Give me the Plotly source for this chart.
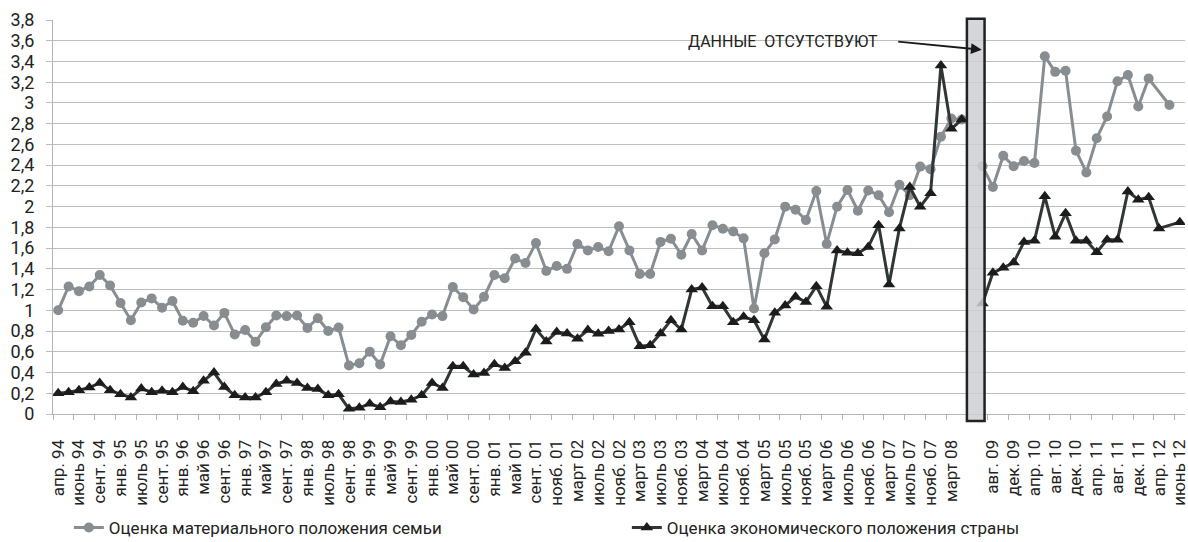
import plotly.graph_objects as go

# ---------------- data ----------------
GAP_INDEX = 88  # period with no survey data (shaded bar)

family_values = [
    1.00, 1.23, 1.185, 1.23, 1.34, 1.24, 1.07, 0.905, 1.075, 1.115,
    1.025, 1.09, 0.90, 0.88, 0.945, 0.853, 0.975, 0.766, 0.81, 0.696,
    0.837, 0.95, 0.944, 0.95, 0.83, 0.924, 0.80, 0.834, 0.467, 0.49,
    0.60, 0.477, 0.75, 0.663, 0.763, 0.89, 0.96, 0.944, 1.224, 1.127,
    1.008, 1.13, 1.34, 1.31, 1.50, 1.456, 1.65, 1.38, 1.427, 1.40,
    1.64, 1.578, 1.61, 1.57, 1.81, 1.578, 1.35, 1.35, 1.66, 1.69,
    1.536, 1.736, 1.578, 1.82, 1.787, 1.76, 1.694, 1.018, 1.55, 1.684,
    2.0, 1.97, 1.87, 2.15, 1.64, 2.0, 2.16, 1.96, 2.155, 2.11,
    1.945, 2.21, 2.11, 2.386, 2.36, 2.675, 2.85, 2.84, None, 2.39,
    2.19, 2.49, 2.39, 2.44, 2.42, 3.45, 3.30, 3.31, 2.54, 2.33,
    2.66, 2.87, 3.21, 3.27, 2.965, 3.235, None, 2.98, None,
]

country_values = [
    0.20, 0.21, 0.23, 0.255, 0.30, 0.23, 0.19, 0.16, 0.245, 0.21,
    0.225, 0.21, 0.26, 0.22, 0.32, 0.40, 0.26, 0.18, 0.16, 0.16,
    0.21, 0.29, 0.32, 0.30, 0.25, 0.24, 0.18, 0.19, 0.05, 0.06,
    0.10, 0.065, 0.12, 0.116, 0.138, 0.18, 0.30, 0.25, 0.46, 0.46,
    0.38, 0.396, 0.48, 0.444, 0.509, 0.59, 0.82, 0.70, 0.79, 0.776,
    0.725, 0.81, 0.773, 0.80, 0.815, 0.886, 0.654, 0.663, 0.776, 0.905,
    0.815, 1.20, 1.22, 1.04, 1.04, 0.886, 0.937, 0.905, 0.718, 0.976,
    1.047, 1.13, 1.08, 1.233, 1.034, 1.578, 1.556, 1.55, 1.61, 1.82,
    1.25, 1.79, 2.19, 2.0, 2.13, 3.36, 2.75, 2.84, None, 1.066,
    1.362, 1.41, 1.46, 1.66, 1.67, 2.10, 1.71, 1.935, 1.67, 1.67,
    1.56, 1.68, 1.68, 2.147, 2.067, 2.09, 1.79, None, 1.85,
]

# one label for every second period
tick_labels = [
    "апр. 94", "июнь 94", "сент. 94", "янв. 95", "июль 95", "сент. 95",
    "янв. 96", "май 96", "сент. 96", "янв. 97", "май 97", "сент. 97",
    "янв. 98", "июль 98", "сент. 98", "янв. 99", "май 99", "сент. 99",
    "янв. 00", "май 00", "сент. 00", "янв. 01", "май 01", "сент. 01",
    "нояб. 01", "март 02", "июль 02", "нояб. 02", "март 03", "июль 03",
    "нояб. 03", "март 04", "июль 04", "нояб. 04", "март 05", "июль 05",
    "нояб. 05", "март 06", "июль 06", "нояб. 06", "март 07", "июль 07",
    "нояб. 07", "март 08", "", "авг. 09", "дек. 09", "апр. 10",
    "авг. 10", "дек. 10", "апр. 11", "авг. 11", "дек. 11", "апр. 12",
    "июнь 12",
]

series_names = ["Оценка материального положения семьи",
                "Оценка экономического положения страны"]
gap_text = "ДАННЫЕ  ОТСУТСТВУЮТ"

assert len(family_values) == len(country_values)
N = len(family_values)

FONT = "Roboto, Liberation Sans, sans-serif"


def xy(vals):
    xs, ys = [], []
    for i, v in enumerate(vals):
        if v is not None or i == GAP_INDEX:
            xs.append(i)
            ys.append(v)
    return xs, ys


fig = go.Figure()

fx, fy = xy(family_values)
fig.add_trace(go.Scatter(
    x=fx, y=fy, name=series_names[0], mode="lines+markers",
    connectgaps=False,
    line=dict(color="#888d92", width=3),
    marker=dict(symbol="circle", size=10, color="#888d92"),
))

cx, cy = xy(country_values)
fig.add_trace(go.Scatter(
    x=cx, y=cy, name=series_names[1], mode="lines+markers",
    connectgaps=False,
    line=dict(color="#303535", width=3),
    marker=dict(symbol="triangle-up", size=11, color="#1c1c1c"),
))

# shaded "no data" bar
fig.add_shape(
    type="rect", xref="x", yref="paper",
    x0=GAP_INDEX - 0.5, x1=GAP_INDEX + 1.2, y0=-0.018, y1=1.003,
    fillcolor="rgba(204,207,212,0.85)",
    line=dict(color="#222222", width=2.5), layer="above",
)

fig.add_annotation(
    x=79.1, y=3.59, xref="x", yref="y", text=gap_text, showarrow=False,
    xanchor="right", yanchor="middle",
    font=dict(family=FONT, size=16, color="#222222"),
)
fig.add_annotation(
    x=88.93, y=3.513, ax=80.74, ay=3.593, xref="x", yref="y",
    axref="x", ayref="y", text="", showarrow=True,
    arrowhead=2, arrowsize=1.2, arrowwidth=1.8, arrowcolor="#1a1a1a",
    standoff=0,
)

fig.update_xaxes(
    range=[-0.5, N - 0.5],
    tickmode="array",
    tickvals=list(range(0, N, 2)),
    ticktext=tick_labels,
    tickangle=-90,
    ticks="",
    ticklabelstandoff=18,
    ticklabeloverflow="allow",
    showgrid=False, zeroline=False,
    showline=True, linecolor="#b5b5b5", linewidth=1,
    tickfont=dict(family=FONT, size=17, color="#222222"),
    minor=dict(tickmode="linear", tick0=-0.5, dtick=2, ticks="outside",
               ticklen=5, tickcolor="#b5b5b5", tickwidth=1, showgrid=False),
)

fig.update_yaxes(
    range=[0, 3.8], dtick=0.2, tick0=0,
    showgrid=True, gridcolor="#bdbdbd", gridwidth=1,
    zeroline=False,
    showline=True, linecolor="#b5b5b5", linewidth=1,
    ticks="outside", ticklen=6, tickcolor="#bdbdbd",
    ticklabelstandoff=8,
    tickfont=dict(family=FONT, size=18, color="#222222"),
)

fig.update_layout(
    width=1188, height=542,
    margin=dict(l=53, r=3, t=20, b=128, autoexpand=False),
    paper_bgcolor="white", plot_bgcolor="white",
    separators=", ",
    font=dict(family=FONT, color="#222222"),
    showlegend=True,
    legend=dict(
        orientation="h", x=0.014, xanchor="left", y=-0.289, yanchor="middle",
        font=dict(family=FONT, size=17, color="#222222"),
        entrywidth=513, entrywidthmode="pixels",
        bgcolor="rgba(0,0,0,0)", traceorder="normal",
    ),
)

fig.write_html("out.html", config={"displayModeBar": False},
               post_script="document.body.style.margin='0';")
